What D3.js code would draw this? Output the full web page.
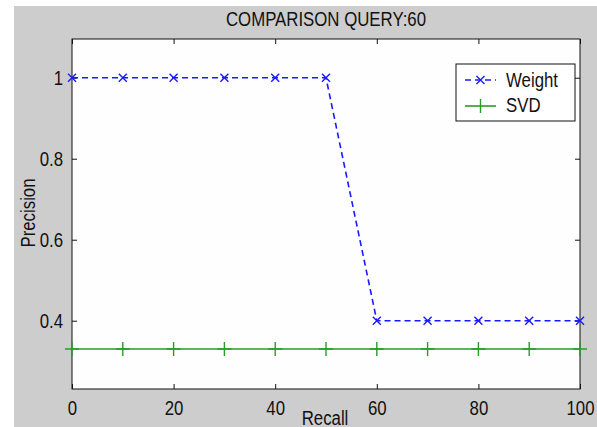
<!DOCTYPE html>
<html>
<head>
<meta charset="utf-8">
<script src="https://cdn.jsdelivr.net/npm/d3@7"></script>
<style>
  body { margin: 0; background: #fff; }
  svg text { font-family: "Liberation Sans", Arial, sans-serif; fill: #111; }
</style>
</head>
<body>
<svg id="chart" width="597" height="427"></svg>
<script>
// recall levels (x) and precision per method
const recall = [0, 10, 20, 30, 40, 50, 60, 70, 80, 90, 100];
const weightPrecision = [1, 1, 1, 1, 1, 1, 0.4, 0.4, 0.4, 0.4, 0.4];
const svdPrecision = [0.33, 0.33, 0.33, 0.33, 0.33, 0.33, 0.33, 0.33, 0.33, 0.33, 0.33];
const xTicks = [0, 20, 40, 60, 80, 100];
const yTicks = [0.4, 0.6, 0.8, 1];
const title = "COMPARISON QUERY:60";

const svg = d3.select("#chart");
const box = { left: 72, right: 580, top: 39, bottom: 389 };

// grey figure background
svg.append("rect").attr("x", 14).attr("y", 6).attr("width", 583).attr("height", 421).attr("fill", "#cdcdcd");
svg.append("rect").attr("x", box.left).attr("y", box.top)
  .attr("width", box.right - box.left).attr("height", box.bottom - box.top).attr("fill", "#fefefe");

const x = d3.scaleLinear().domain([0, 100]).range([box.left, box.right]);
const y = d3.scaleLinear().domain([0.2314, 1.0956]).range([box.bottom, box.top]);

// axes, ticks pointing inwards like matlab
const fmt = d => String(d);
svg.append("g").attr("transform", `translate(0,${box.bottom})`)
  .call(d3.axisBottom(x).tickValues(xTicks).tickSize(-5).tickPadding(12).tickFormat(fmt));
svg.append("g").attr("transform", `translate(0,${box.top})`)
  .call(d3.axisTop(x).tickValues(xTicks).tickSize(-5).tickFormat(""));
svg.append("g").attr("transform", `translate(${box.left},0)`)
  .call(d3.axisLeft(y).tickValues(yTicks).tickSize(-5).tickPadding(9).tickFormat(fmt));
svg.append("g").attr("transform", `translate(${box.right},0)`)
  .call(d3.axisRight(y).tickValues(yTicks).tickSize(-5).tickFormat(""));
svg.selectAll(".domain").remove();
svg.selectAll(".tick line").attr("stroke", "#111");
svg.selectAll(".tick text").attr("font-size", 20).attr("fill", "#111");
svg.selectAll("g").attr("font-family", null);
// plain box edges
svg.append("rect").attr("x", box.left).attr("y", box.top)
  .attr("width", box.right - box.left).attr("height", box.bottom - box.top)
  .attr("fill", "none").attr("stroke", "#111");

const blue = "#1a1aff";
const green = "#22a022";

// SVD series
const svd = recall.map((r, i) => [r, svdPrecision[i]]);
svg.append("path").datum(svd)
  .attr("d", d3.line().x(d => x(d[0])).y(d => y(d[1])))
  .attr("fill", "none").attr("stroke", green).attr("stroke-width", 1.6);
svg.append("g").selectAll("path").data(svd).join("path")
  .attr("d", d => `M${x(d[0]) - 7},${y(d[1])}h14M${x(d[0])},${y(d[1]) - 7}v14`)
  .attr("stroke", green).attr("stroke-width", 1.4);

// Weight series
const wt = recall.map((r, i) => [r, weightPrecision[i]]);
svg.append("path").datum(wt)
  .attr("d", d3.line().x(d => x(d[0])).y(d => y(d[1])))
  .attr("fill", "none").attr("stroke", blue).attr("stroke-width", 1.6)
  .attr("stroke-dasharray", "6,4");
svg.append("g").selectAll("path").data(wt).join("path")
  .attr("d", d => `M${x(d[0]) - 4},${y(d[1]) - 4}l8,8M${x(d[0]) - 4},${y(d[1]) + 4}l8,-8`)
  .attr("stroke", blue).attr("stroke-width", 1.4);

// title and labels
svg.append("text").attr("x", 326).attr("y", 26).attr("text-anchor", "middle")
  .attr("font-size", 20).text(title);
svg.append("text").attr("x", 325).attr("y", 425).attr("text-anchor", "middle")
  .attr("font-size", 20).text("Recall");
svg.append("text").attr("transform", "translate(35,213) rotate(-90)").attr("text-anchor", "middle")
  .attr("font-size", 20).text("Precision");

// legend
const lg = svg.append("g").attr("transform", "translate(456,64)");
lg.append("rect").attr("width", 119).attr("height", 57).attr("fill", "#fff").attr("stroke", "#111");
lg.append("line").attr("x1", 9).attr("x2", 40).attr("y1", 16).attr("y2", 16)
  .attr("stroke", blue).attr("stroke-width", 1.6).attr("stroke-dasharray", "6,4");
lg.append("path").attr("d", "M20.5,12l8,8M20.5,20l8,-8").attr("stroke", blue).attr("stroke-width", 1.4);
lg.append("line").attr("x1", 9).attr("x2", 40).attr("y1", 42).attr("y2", 42)
  .attr("stroke", green).attr("stroke-width", 1.6);
lg.append("path").attr("d", "M24.5,35v14").attr("stroke", green).attr("stroke-width", 1.4);
lg.append("text").attr("x", 50).attr("y", 23).attr("font-size", 20).text("Weight");
lg.append("text").attr("x", 50).attr("y", 48).attr("font-size", 20).text("SVD");

// the original font is narrow: squeeze every text horizontally
svg.selectAll("text").each(function () {
  const w = this.getComputedTextLength();
  d3.select(this).attr("textLength", w * 0.84).attr("lengthAdjust", "spacingAndGlyphs");
});
</script>
</body>
</html>
